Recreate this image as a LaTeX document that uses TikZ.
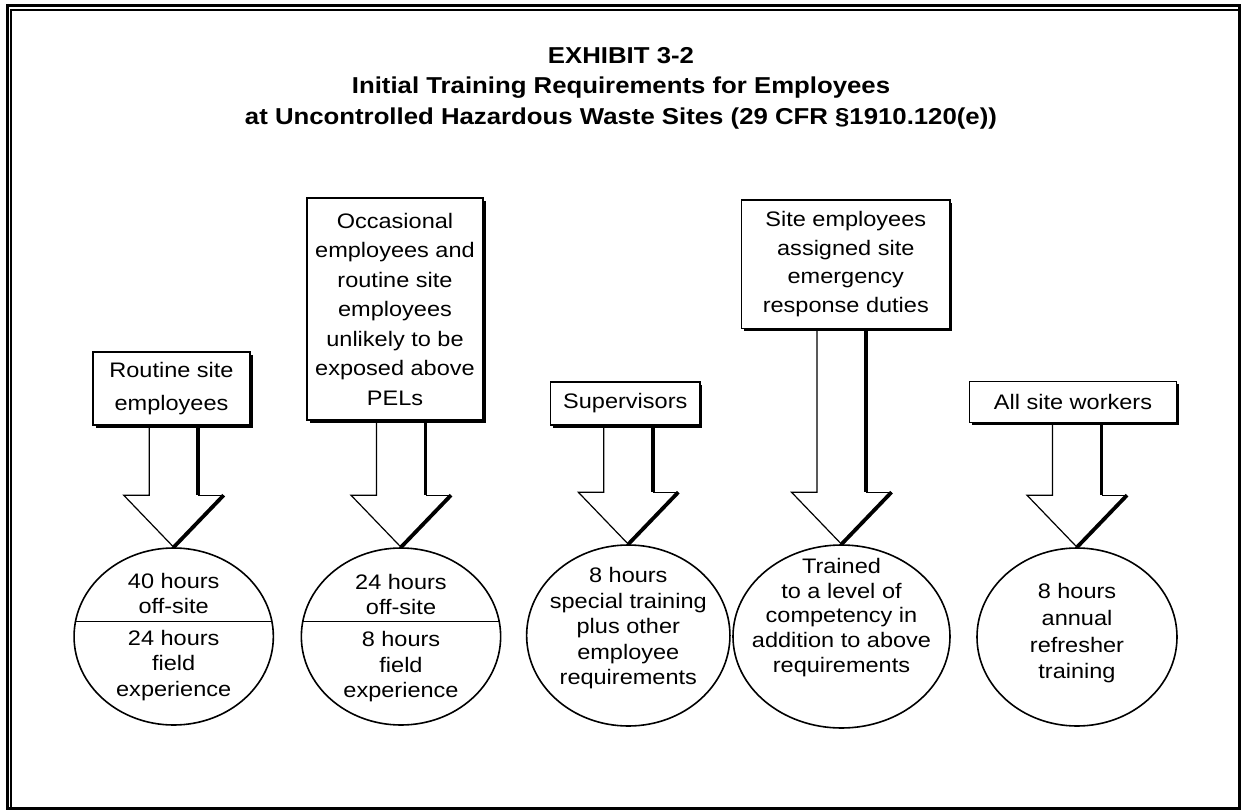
\documentclass[tikz,border=0pt]{standalone}
\usepackage{fontspec}
\setmainfont{Liberation Sans}[FakeStretch=1.12]
\usetikzlibrary{calc,shapes.geometric,shadows}
\newcommand\colarrow[2]{%
  \coordinate (#2-t) at (#2.north);
  \coordinate (#2-lw) at ($(#2-t)+(-50,-52)$);
  \coordinate (#2-ls) at ($(#2-t)+(-24.5,-52)$);
  \coordinate (#2-rw) at ($(#2-t)+(50,-52)$);
  \coordinate (#2-rs) at ($(#2-t)+(24.5,-52)$);
  \draw[thinl] (#1.south -| #2-ls) -- (#2-ls) -- (#2-lw) -- (#2-t);
  \draw[thinl] (#2-rw) -- (#2-rs);
  \draw[thickl] (#1.south -| #2-rs) -- (#2-rs);
  \draw[thickl] (#2-t) -- (#2-rw);
}
\begin{document}
\begin{tikzpicture}[x=1pt,y=-1pt,
  box/.style={draw,line width=1.3pt,fill=white,inner sep=0pt,align=center,
     drop shadow={shadow xshift=2.5pt,shadow yshift=-2.5pt,opacity=1,fill=black},
     font=\fontsize{21}{29.5}\selectfont},
  oval/.style={draw,ellipse,line width=1.6pt,inner sep=0pt},
  ctext/.style={align=center,inner sep=0pt,font=\fontsize{21}{25.5}\selectfont},
  titletext/.style={align=center,inner sep=0pt,font=\fontsize{23}{30.5}\selectfont\bfseries},
  thinl/.style={line width=1.2pt,line join=miter},
  thickl/.style={line width=3.8pt,line cap=butt,line join=miter},
  divider/.style={line width=1.4pt},
]
\useasboundingbox (0,0) rectangle (1243,811);
\fill[white] (0,0) rectangle (1243,811);
% frame
\draw[line width=3pt] (7,5) rectangle (1239.5,808.8);
\draw[line width=2pt] (11.3,9.5) rectangle (1238.5,807.5);

% title
\node[titletext] (title) at (621,88) {EXHIBIT 3-2\\Initial Training Requirements for Employees\\at Uncontrolled Hazardous Waste Sites (29 CFR §1910.120(e))};

% boxes
\node[box,minimum width=157pt,minimum height=73pt,font=\fontsize{21}{33}\selectfont] (b1) at (171.5,388.5) {Routine site\\employees};
\node[box,minimum width=176pt,minimum height=222pt] (b2) at (395,309) {Occasional\\employees and\\routine site\\employees\\unlikely to be\\exposed above\\PELs};
\node[box,minimum width=149.3pt,minimum height=43pt] (b3) at (625.3,403.5) {Supervisors};
\node[box,minimum width=208.3pt,minimum height=128.3pt,font=\fontsize{21}{28.5}\selectfont] (b4) at (845.8,264.2) {Site employees\\assigned site\\emergency\\response duties};
\node[box,minimum width=207.4pt,minimum height=41pt] (b5) at (1073,402) {All site workers};

% ovals
\node[oval,minimum width=199.3pt,minimum height=177pt] (e1) at (173.7,636.5) {};
\node[oval,minimum width=199.3pt,minimum height=177pt] (e2) at (401,636.5) {};
\node[oval,minimum width=203.3pt,minimum height=181pt] (e3) at (628.3,635.5) {};
\node[oval,minimum width=217pt,minimum height=183pt] (e4) at (841.5,636.5) {};
\node[oval,minimum width=200pt,minimum height=178pt] (e5) at (1077,637) {};

% dividers
\begin{scope}
\clip (e1.center) ellipse [x radius=99.7, y radius=88.5];
\draw[divider] ($(e1.west)+(0,-14.8)$) -- ($(e1.east)+(0,-14.8)$);
\end{scope}
\begin{scope}
\clip (e2.center) ellipse [x radius=99.7, y radius=88.5];
\draw[divider] ($(e2.west)+(0,-14.8)$) -- ($(e2.east)+(0,-14.8)$);
\end{scope}

% oval texts
\node[ctext] (e1a) at (173.7,593.5) {40 hours\\off-site};
\node[ctext] (e1b) at (173.7,665.5) {24 hours\\field\\experience};
\node[ctext] (e2a) at (401,594.5) {24 hours\\off-site};
\node[ctext] (e2b) at (401,667) {8 hours\\field\\experience};
\node[ctext] (e3a) at (628.3,628.3) {8 hours\\special training\\plus other\\employee\\requirements};
\node[ctext,font=\fontsize{21}{24.75}\selectfont] (e4a) at (841.5,617.5) {Trained\\to a level of\\competency in\\addition to above\\requirements};
\node[ctext,font=\fontsize{21}{26.7}\selectfont] (e5a) at (1077,633.3) {8 hours\\annual\\refresher\\training};

% block arrows
\colarrow{b1}{e1}
\colarrow{b2}{e2}
\colarrow{b3}{e3}
\colarrow{b4}{e4}
\colarrow{b5}{e5}
\end{tikzpicture}
\end{document}
